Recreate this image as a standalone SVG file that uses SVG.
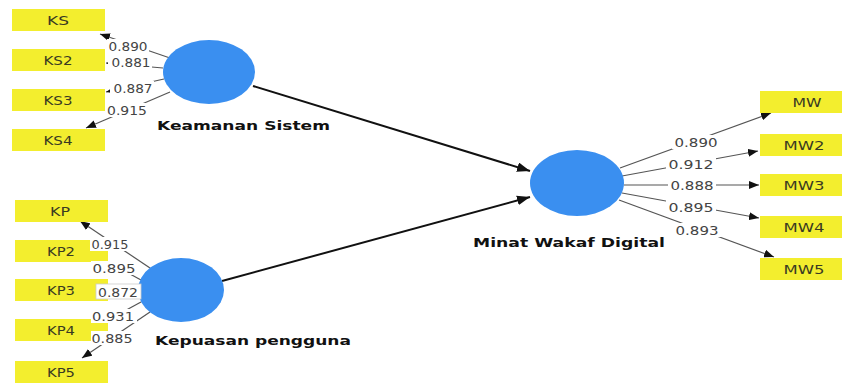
<svg xmlns="http://www.w3.org/2000/svg" width="842" height="385" viewBox="0 0 842 385">
<style>
.ind{fill:#f3ee2e}
.it{font-family:"DejaVu Sans",Verdana,sans-serif;font-size:12px;fill:#3a3a22;text-anchor:middle}
.lv{fill:#3a8ff0}
.lt{font-family:"DejaVu Sans",Verdana,sans-serif;font-size:13px;font-weight:bold;fill:#111}
.ol{stroke:#555;stroke-width:1.2;fill:none;marker-end:url(#ah)}
.sl{stroke:#111;stroke-width:2;fill:none;marker-end:url(#ahb)}
.nb{fill:#fff}
.nt{font-family:"DejaVu Sans",Verdana,sans-serif;font-size:12.5px;fill:#444;text-anchor:middle}
</style>
<defs>
<marker id="ah" viewBox="0 0 10 8" refX="10" refY="4" markerWidth="10" markerHeight="8" markerUnits="userSpaceOnUse" orient="auto"><path d="M0,0L10,4L0,8z" fill="#111"/></marker>
<marker id="ahb" viewBox="0 0 12 9" refX="12" refY="4.5" markerWidth="13" markerHeight="10" markerUnits="userSpaceOnUse" orient="auto"><path d="M0,0L12,4.5L0,9z" fill="#111"/></marker>
</defs>
<rect width="842" height="385" fill="#fff"/>
<g id="connectors">
<line class="sl" x1="253" y1="86" x2="530" y2="171"/>
<line class="sl" x1="222" y1="281" x2="530" y2="197"/>
<line class="ol" x1="170" y1="58" x2="100" y2="34"/>
<line class="ol" x1="163" y1="68" x2="106" y2="63"/>
<line class="ol" x1="164" y1="79" x2="106" y2="92"/>
<line class="ol" x1="170" y1="92" x2="86" y2="128"/>
<line class="ol" x1="150" y1="268" x2="80" y2="221"/>
<line class="ol" x1="141" y1="280" x2="108" y2="262"/>
<line class="ol" x1="138" y1="290" x2="108" y2="290"/>
<line class="ol" x1="141" y1="302" x2="108" y2="320"/>
<line class="ol" x1="150" y1="312" x2="82" y2="358"/>
<line class="ol" x1="620" y1="168" x2="771" y2="113"/>
<line class="ol" x1="622" y1="176" x2="758" y2="151"/>
<line class="ol" x1="624" y1="185" x2="759" y2="185"/>
<line class="ol" x1="622" y1="193" x2="759" y2="218"/>
<line class="ol" x1="619" y1="200" x2="774" y2="257"/>
</g>
<g id="KS"><rect class="ind" x="12" y="9" width="93" height="22"/><text class="it" x="58" y="25" textLength="22" lengthAdjust="spacingAndGlyphs">KS</text></g>
<g id="KS2"><rect class="ind" x="12" y="49" width="93" height="22"/><text class="it" x="58" y="65" textLength="29" lengthAdjust="spacingAndGlyphs">KS2</text></g>
<g id="KS3"><rect class="ind" x="12" y="89" width="93" height="22"/><text class="it" x="58" y="105" textLength="29" lengthAdjust="spacingAndGlyphs">KS3</text></g>
<g id="KS4"><rect class="ind" x="12" y="129" width="93" height="22"/><text class="it" x="58" y="145" textLength="29" lengthAdjust="spacingAndGlyphs">KS4</text></g>
<g id="KP"><rect class="ind" x="15" y="200" width="93" height="22"/><text class="it" x="60" y="216" textLength="20" lengthAdjust="spacingAndGlyphs">KP</text></g>
<g id="KP2"><rect class="ind" x="15" y="240" width="93" height="22"/><text class="it" x="61" y="256" textLength="28" lengthAdjust="spacingAndGlyphs">KP2</text></g>
<g id="KP3"><rect class="ind" x="15" y="279" width="93" height="22"/><text class="it" x="61" y="295" textLength="28" lengthAdjust="spacingAndGlyphs">KP3</text></g>
<g id="KP4"><rect class="ind" x="15" y="319" width="93" height="22"/><text class="it" x="61" y="335" textLength="28" lengthAdjust="spacingAndGlyphs">KP4</text></g>
<g id="KP5"><rect class="ind" x="15" y="361" width="93" height="22"/><text class="it" x="61" y="377" textLength="28" lengthAdjust="spacingAndGlyphs">KP5</text></g>
<g id="MW"><rect class="ind" x="760" y="91" width="82" height="22"/><text class="it" x="807" y="107" textLength="29" lengthAdjust="spacingAndGlyphs">MW</text></g>
<g id="MW2"><rect class="ind" x="760" y="134" width="82" height="22"/><text class="it" x="804" y="150" textLength="41" lengthAdjust="spacingAndGlyphs">MW2</text></g>
<g id="MW3"><rect class="ind" x="760" y="174" width="82" height="22"/><text class="it" x="804" y="190" textLength="41" lengthAdjust="spacingAndGlyphs">MW3</text></g>
<g id="MW4"><rect class="ind" x="760" y="216" width="82" height="22"/><text class="it" x="804" y="232" textLength="41" lengthAdjust="spacingAndGlyphs">MW4</text></g>
<g id="MW5"><rect class="ind" x="760" y="258" width="82" height="22"/><text class="it" x="804" y="274" textLength="41" lengthAdjust="spacingAndGlyphs">MW5</text></g>
<g id="KeamananSistem"><ellipse class="lv" cx="209" cy="72" rx="46" ry="32"/><text class="lt" x="157" y="130" textLength="173" lengthAdjust="spacingAndGlyphs">Keamanan Sistem</text></g>
<g id="KepuasanPengguna"><ellipse class="lv" cx="181" cy="290" rx="43" ry="32"/><text class="lt" x="155" y="345" textLength="196" lengthAdjust="spacingAndGlyphs">Kepuasan pengguna</text></g>
<g id="MinatWakafDigital"><ellipse class="lv" cx="577" cy="183" rx="47" ry="33"/><text class="lt" x="473" y="247" textLength="192" lengthAdjust="spacingAndGlyphs">Minat Wakaf Digital</text></g>
<g id="loadings">
<rect class="nb" x="107" y="39" width="42" height="14"/><text class="nt" x="128" y="51" textLength="39" lengthAdjust="spacingAndGlyphs">0.890</text>
<rect class="nb" x="108" y="55" width="44" height="14"/><text class="nt" x="131" y="67" textLength="39" lengthAdjust="spacingAndGlyphs">0.881</text>
<rect class="nb" x="110" y="81" width="44" height="14"/><text class="nt" x="133" y="93" textLength="39" lengthAdjust="spacingAndGlyphs">0.887</text>
<rect class="nb" x="106" y="103" width="43" height="14"/><text class="nt" x="127" y="115" textLength="40" lengthAdjust="spacingAndGlyphs">0.915</text>
<rect class="nb" x="90" y="237" width="41" height="14"/><text class="nt" x="110" y="249" textLength="37" lengthAdjust="spacingAndGlyphs">0.915</text>
<rect class="nb" x="91" y="261" width="47" height="14"/><text class="nt" x="114" y="273" textLength="43" lengthAdjust="spacingAndGlyphs">0.895</text>
<rect class="nb" x="96" y="284" width="45" height="15" stroke="#ccc" stroke-width="0.8"/><text class="nt" x="118" y="297" textLength="40" lengthAdjust="spacingAndGlyphs">0.872</text>
<rect class="nb" x="91" y="309" width="46" height="14"/><text class="nt" x="113" y="321" textLength="42" lengthAdjust="spacingAndGlyphs">0.931</text>
<rect class="nb" x="91" y="331" width="44" height="14"/><text class="nt" x="112" y="343" textLength="41" lengthAdjust="spacingAndGlyphs">0.885</text>
<rect class="nb" x="672" y="135" width="48" height="14"/><text class="nt" x="696" y="147" textLength="43" lengthAdjust="spacingAndGlyphs">0.890</text>
<rect class="nb" x="666" y="157" width="50" height="14"/><text class="nt" x="691" y="169" textLength="45" lengthAdjust="spacingAndGlyphs">0.912</text>
<rect class="nb" x="668" y="178" width="48" height="14"/><text class="nt" x="692" y="190" textLength="43" lengthAdjust="spacingAndGlyphs">0.888</text>
<rect class="nb" x="666" y="200" width="50" height="14"/><text class="nt" x="691" y="212" textLength="45" lengthAdjust="spacingAndGlyphs">0.895</text>
<rect class="nb" x="672" y="223" width="50" height="14"/><text class="nt" x="697" y="235" textLength="43" lengthAdjust="spacingAndGlyphs">0.893</text>
</g>
</svg>
